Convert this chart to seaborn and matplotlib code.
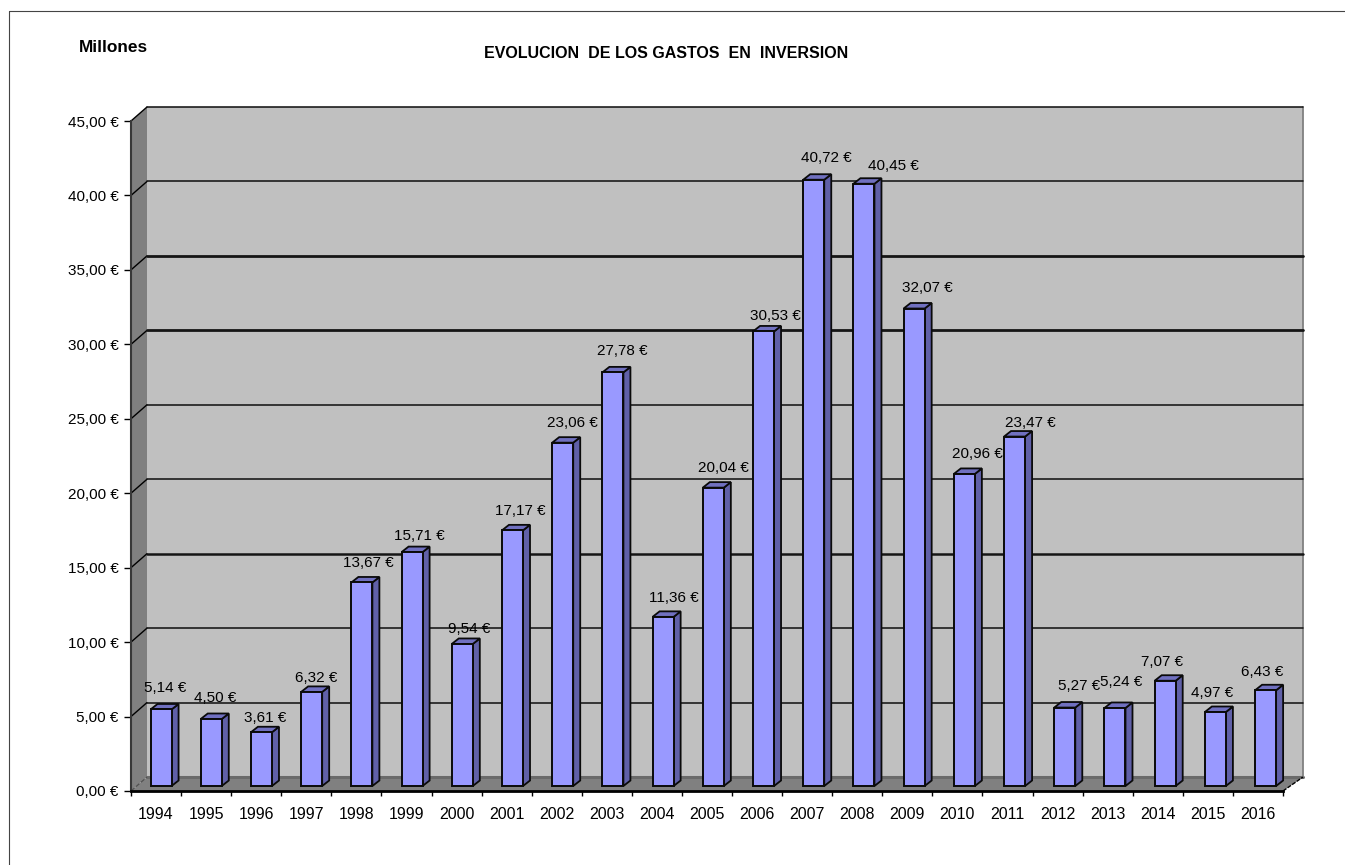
import numpy as np
import pandas as pd
import seaborn as sns
import matplotlib.pyplot as plt
from matplotlib.lines import Line2D
from matplotlib.patches import Polygon
from matplotlib.ticker import FuncFormatter

years = [1994, 1995, 1996, 1997, 1998, 1999, 2000, 2001, 2002, 2003, 2004, 2005,
         2006, 2007, 2008, 2009, 2010, 2011, 2012, 2013, 2014, 2015, 2016]
gastos = [5.14, 4.50, 3.61, 6.32, 13.67, 15.71, 9.54, 17.17, 23.06, 27.78, 11.36, 20.04,
          30.53, 40.72, 40.45, 32.07, 20.96, 23.47, 5.27, 5.24, 7.07, 4.97, 6.43]
y_ticks = [0, 5, 10, 15, 20, 25, 30, 35, 40, 45]

# label nudges in pixels from the bar top, the original labels are placed by hand
label_dx = [4.5, 4, 4, 5, 7, 7.5, 7, 8, 10, 9, 11, 10, 12, 13, 29, 13, 13, 16, 14, 6.5, -3, -3, -3]
label_dy = [21, 21, 14, 14, 19, 16, 15, 19, 20, 21, 19, 20, 15, 22, 18, 21, 20, 14, 22, 26, 19, 19, 18]
# gridlines do not all come out the same weight (points)
grid_lw = [1.15, 1.15, 1.8, 1.15, 1.15, 2.0, 2.0, 1.15, 1.15]

sns.set_style("white")
plt.rcParams['font.family'] = ['Liberation Sans', 'DejaVu Sans']
plt.rcParams['text.color'] = 'black'

W, H = 1345, 865
fig = plt.figure(figsize=(W / 100, H / 100), dpi=100, facecolor='white')
ax = fig.add_axes([131 / W, (H - 791) / H, 1152 / W, 670 / H])
ax.set_facecolor('none')

# data units per pixel, used for the fake 3d depth
px = 23 / 1152
py = 45 / 670
wall_dx, wall_dy = 16 * px, 14 * py
bar_dx, bar_dy = 7 * px, 5.5 * py
shift_x, shift_y = 5 * px, 5 * py
drift = 0.12 * px

x0, x1 = -0.5, 22.5
y0, y1 = 0, 45
wall_right = x1 + 20 * px

df = pd.DataFrame({'anio': years, 'gasto': gastos})
sns.barplot(data=df, x='anio', y='gasto', color='#9999FF', saturation=1, width=0.42,
            edgecolor='#0a0a0a', linewidth=1.4, ax=ax, zorder=5)

# walls and floor
ax.add_patch(Polygon([(x0 + wall_dx, y0 + wall_dy), (wall_right, y0 + wall_dy),
                      (wall_right, y1 + wall_dy), (x0 + wall_dx, y1 + wall_dy)],
                     fc='#C0C0C0', ec='none', clip_on=False, zorder=1))
ax.add_patch(Polygon([(x0, y0), (x0 + wall_dx, y0 + wall_dy), (x0 + wall_dx, y1 + wall_dy), (x0, y1)],
                     fc='#808080', ec='none', clip_on=False, zorder=1))
ax.add_patch(Polygon([(x0, y0), (x1, y0), (wall_right, y0 + wall_dy), (x0 + wall_dx, y0 + wall_dy)],
                     fc='#808080', ec='none', clip_on=False, zorder=1))
ax.plot([x0 + wall_dx, wall_right], [y0 + wall_dy] * 2, color='#6A6A6A', lw=2.2, clip_on=False, zorder=2)
ax.plot([wall_right] * 2, [y0 + wall_dy, y1 + wall_dy], color='#808080', lw=1.3, clip_on=False, zorder=2)
ax.plot([x0, x0 + wall_dx], [y0, y0 + wall_dy], color='#505050', lw=0.9, ls='--', clip_on=False, zorder=2)
ax.plot([x1, wall_right], [y0, y0 + wall_dy], color='black', lw=1.0, ls=(0, (3, 1)), clip_on=False, zorder=2)

# gridlines run along the side wall and then the back wall
for t, lw in zip(y_ticks[1:], grid_lw):
    ax.plot([x0, x0 + wall_dx], [t, t + wall_dy], color='black', lw=1.0, clip_on=False, zorder=3)
    ax.plot([x0 + wall_dx, wall_right], [t + wall_dy, t + wall_dy], color='#151515', lw=lw,
            clip_on=False, zorder=3)

for i, (bar, val) in enumerate(zip(ax.patches, gastos)):
    bar.set_x(bar.get_x() + shift_x + i * drift)
    bar.set_y(shift_y)
    left, right = bar.get_x(), bar.get_x() + bar.get_width()
    low, top = shift_y, shift_y + val
    ax.add_patch(Polygon([(right, low), (right + bar_dx, low + bar_dy), (right + bar_dx, top + bar_dy), (right, top)],
                         fc='#6060A8', ec='#0a0a0a', lw=1.3, clip_on=False, zorder=4))
    ax.add_patch(Polygon([(left, top), (right, top), (right + bar_dx, top + bar_dy), (left + bar_dx, top + bar_dy)],
                         fc='#7070C0', ec='#0a0a0a', lw=1.3, clip_on=False, zorder=4))
    ax.annotate(f"{val:.2f} €".replace('.', ','), (left + bar.get_width() / 2, top),
                xytext=(label_dx[i], label_dy[i]), textcoords='offset pixels', ha='center', va='center',
                fontsize=11, color='black', zorder=6)

ax.set_xlim(x0, x1)
ax.set_ylim(y0, y1)
ax.set_xlabel('')
ax.set_ylabel('')

ax.set_yticks(y_ticks)
ax.yaxis.set_major_formatter(FuncFormatter(lambda v, _: f"{v:.2f} €".replace('.', ',')))
ax.set_xticks(np.arange(x0, x1 + 0.5))
ax.set_xticklabels([])
ax.set_xticks(np.arange(len(years)), minor=True)
ax.set_xticklabels(years, minor=True)
ax.tick_params(axis='y', which='major', left=True, length=5, width=1, labelsize=11, pad=4,
               color='black', labelcolor='black')
ax.tick_params(axis='x', which='major', bottom=True, length=3.5, width=1, color='black')
ax.tick_params(axis='x', which='minor', bottom=False, length=0, labelsize=11.5, pad=11.3, labelcolor='black')

for side in ['top', 'right']:
    ax.spines[side].set_visible(False)
ax.spines['left'].set_color('#383838')
ax.spines['left'].set_linewidth(1.5)
ax.spines['bottom'].set_color('black')
ax.spines['bottom'].set_linewidth(2)
ax.spines['left'].set_zorder(3)
ax.spines['bottom'].set_zorder(3)

fig.text(113 / W, 1 - 47 / H, 'Millones', fontsize=12.4, fontweight='bold', ha='center', va='center')
fig.text(666 / W, 1 - 54 / H, 'EVOLUCION  DE LOS GASTOS  EN  INVERSION', fontsize=11.5, fontweight='bold',
         ha='center', va='center')

# chart area border, only top and left show
fig.add_artist(Line2D([9 / W, 9 / W], [0, 1 - 11 / H], color='#444444', lw=0.8))
fig.add_artist(Line2D([9 / W, 1], [1 - 11 / H, 1 - 11 / H], color='#444444', lw=0.8))

fig.savefig('out.png', dpi=100)
